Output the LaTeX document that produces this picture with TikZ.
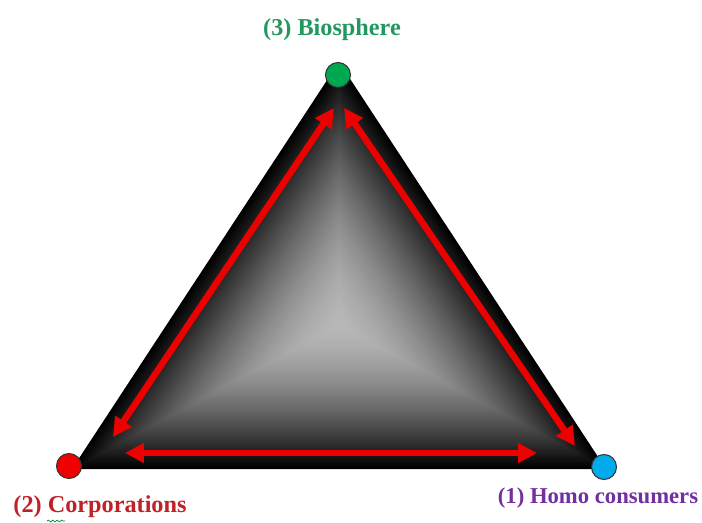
\documentclass[tikz,border=0pt]{standalone}
\usepackage{fontspec}
\setmainfont{Liberation Serif}
\usetikzlibrary{arrows.meta,calc,decorations.pathmorphing}
\definecolor{biotext}{RGB}{34,152,94}
\definecolor{corptext}{RGB}{192,32,40}
\definecolor{homotext}{RGB}{112,48,160}
\definecolor{biodot}{RGB}{0,168,80}
\definecolor{corpdot}{RGB}{240,0,0}
\definecolor{homodot}{RGB}{0,170,235}
\definecolor{linkred}{RGB}{236,0,0}
\tikzset{
  vertex/.style={circle, draw=black!80, line width=0.6pt, minimum size=0.5cm, inner sep=0pt},
  lbl/.style={font=\fontsize{13.8}{16}\selectfont\bfseries, inner sep=0pt},
  link/.style={draw=linkred, line width=0.13cm,
    {Triangle[length=3.8mm,width=3.8mm]}-{Triangle[length=3.8mm,width=3.8mm]}}
}

\begin{document}
\begin{tikzpicture}[x=0.02cm, y=-0.02cm]
  \useasboundingbox (0,0) rectangle (702,523);
  % corners and centre of the bevelled triangle
  \coordinate (top)   at (339,62);
  \coordinate (left)  at (72,469);
  \coordinate (right) at (606,469);
  \coordinate (mid)   at (339,325);
  \foreach \k in {0,...,70}{
    \pgfmathsetmacro\s{1-\k/70}
    \pgfmathsetmacro\p{28+72*\s^1.6}
    \fill[black!\p!white] ($(mid)!\s!(top)$) -- ($(mid)!\s!(left)$) -- ($(mid)!\s!(right)$) -- cycle;
  }

  % arrow ends
  \coordinate (lt) at (334,108);
  \coordinate (lb) at (113,437);
  \coordinate (rt) at (344,108);
  \coordinate (rb) at (575,446);
  \coordinate (bl) at (125,453);
  \coordinate (br) at (537,453);
  \draw[link] (lt) -- (lb);
  \draw[link] (rt) -- (rb);
  \draw[link] (bl) -- (br);

  \node[vertex, fill=biodot]  (bio)  at (338,75)  {};
  \node[vertex, fill=corpdot] (corp) at (69,466)  {};
  \node[vertex, fill=homodot] (homo) at (604,467) {};

  \node[lbl, text=biotext]  (biolbl)  at (332,30)  {(3) Biosphere};
  \node[lbl, text=corptext] (corplbl) at (100,507) {(2) Corporations};
  \node[lbl, text=homotext, font=\fontsize{12.9}{15}\selectfont\bfseries]
    (homolbl) at (598,498) {(1) Homo consumers};
  \draw[biodot!80!black, line width=0.4pt, decorate,
    decoration={snake, amplitude=0.5pt, segment length=2.5pt}] (47,521) -- (65,521);
\end{tikzpicture}
\end{document}
